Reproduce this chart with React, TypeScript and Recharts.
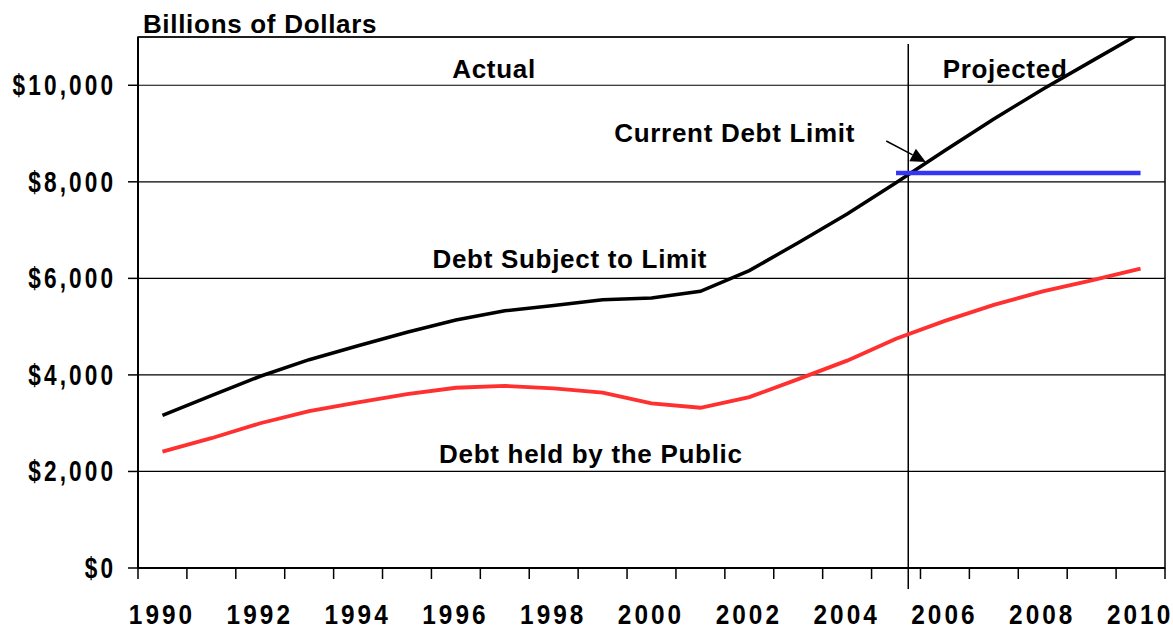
import React from 'react';
import {
  LineChart,
  Line,
  XAxis,
  YAxis,
  CartesianGrid,
  ReferenceLine,
  ReferenceArea,
  ReferenceDot,
} from 'recharts';

// fiscal years shown on the category axis
const years = [1990, 1991, 1992, 1993, 1994, 1995, 1996, 1997, 1998, 1999, 2000, 2001, 2002, 2003, 2004, 2005, 2006, 2007, 2008, 2009, 2010];

// billions of dollars
const debtSubjectToLimit = [3161, 3569, 3972, 4315, 4605, 4884, 5137, 5328, 5440, 5559, 5592, 5732, 6161, 6738, 7333, 7980, 8650, 9300, 9920, 10500, 11080];
const debtHeldByPublic = [2412, 2689, 2999, 3248, 3433, 3604, 3734, 3772, 3721, 3632, 3410, 3320, 3540, 3913, 4296, 4750, 5120, 5450, 5730, 5960, 6200];
const currentDebtLimit = [null, null, null, null, null, null, null, null, null, null, null, null, null, null, null, 8184, 8184, 8184, 8184, 8184, 8184];

const yTicks = [0, 2000, 4000, 6000, 8000, 10000];
const xLabelYears = [1990, 1992, 1994, 1996, 1998, 2000, 2002, 2004, 2006, 2008, 2010];
const yearBoundaries = [1989.5, 1990.5, 1991.5, 1992.5, 1993.5, 1994.5, 1995.5, 1996.5, 1997.5, 1998.5, 1999.5, 2000.5, 2001.5, 2002.5, 2003.5, 2004.5, 2005.5, 2006.5, 2007.5, 2008.5, 2009.5, 2010.5];
const projectionStart = 2005.25;

const annotations = [
  { text: 'Billions of Dollars', x: 1989.6, y: 11083, anchor: 'start' },
  { text: 'Actual', x: 1996.78, y: 10157, anchor: 'middle' },
  { text: 'Projected', x: 2007.23, y: 10144, anchor: 'middle' },
  { text: 'Current Debt Limit', x: 2001.7, y: 8831, anchor: 'middle' },
  { text: 'Debt Subject to Limit', x: 1998.33, y: 6208, anchor: 'middle' },
  { text: 'Debt held by the Public', x: 1998.76, y: 2181, anchor: 'middle' },
];
const arrowFrom = { x: 2004.8, y: 8846 };
const arrowTo = { x: 2005.61, y: 8411 };

const data = years.map((year, i) => ({
  year,
  subject: debtSubjectToLimit[i],
  publicDebt: debtHeldByPublic[i],
  limit: currentDebtLimit[i],
}));

const ARIAL = "'Liberation Sans', Arial, sans-serif";

// the original axis font is a tall condensed bold face, so squeeze Arial horizontally
const YTick = ({ x, y, payload }: any) => (
  <g transform={`translate(${x + 1},${y + 10}) scale(0.78,1)`}>
    <text x={4} y={0} textAnchor="end" fontFamily={ARIAL} fontWeight="bold" fontSize={29} letterSpacing={4} fill="#000">
      {'$' + Number(payload.value).toLocaleString('en-US')}
    </text>
  </g>
);

const XTick = ({ x, y, payload }: any) => (
  <g transform={`translate(${x - 2},${y + 56}) scale(0.87,1)`}>
    <text x={1.75} y={0} textAnchor="middle" fontFamily={ARIAL} fontWeight="bold" fontSize={28} letterSpacing={3.5} fill="#000">
      {payload.value}
    </text>
  </g>
);

const TickMark = (p: any) => {
  const bottom = Math.max(p.y1, p.y2);
  return <line x1={p.x1} x2={p.x1} y1={bottom} y2={bottom + 11} stroke="#000" strokeWidth={1.5} />;
};

const Divider = (p: any) => {
  const top = Math.min(p.y1, p.y2);
  const bottom = Math.max(p.y1, p.y2);
  return <line x1={p.x1} x2={p.x1} y1={top + 7} y2={bottom + 21} stroke="#000" strokeWidth={1.5} />;
};

const Arrow = (p: any) => {
  const dx = p.x2 - p.x1;
  const dy = p.y2 - p.y1;
  const len = Math.sqrt(dx * dx + dy * dy);
  const ux = dx / len;
  const uy = dy / len;
  const headLen = 15;
  const headW = 7;
  const bx = p.x2 - ux * headLen;
  const by = p.y2 - uy * headLen;
  return (
    <g>
      <line x1={p.x1} y1={p.y1} x2={bx} y2={by} stroke="#000" strokeWidth={1.5} />
      <polygon
        points={`${p.x2},${p.y2} ${bx - uy * headW},${by + ux * headW} ${bx + uy * headW},${by - ux * headW}`}
        fill="#000"
      />
    </g>
  );
};

export default function App() {
  return (
    <div style={{ width: 1173, height: 630, background: '#fff' }}>
      <style>{'body{margin:0}'}</style>
      <LineChart width={1173} height={630} data={data} margin={{ top: 37, right: 8, bottom: 0, left: 0 }}>
        <CartesianGrid vertical={false} stroke="#000" strokeWidth={1.2} />
        <ReferenceArea x1={1989.5} x2={2010.5} y1={0} y2={11000} fill="none" stroke="#000" strokeWidth={1.5} />
        <XAxis
          dataKey="year"
          type="number"
          domain={[1989.5, 2010.5]}
          ticks={xLabelYears}
          tickLine={false}
          tickSize={0}
          tickMargin={0}
          height={62}
          axisLine={{ stroke: '#000', strokeWidth: 2 }}
          tick={<XTick />}
          interval={0}
        />
        <YAxis
          type="number"
          domain={[0, 11000]}
          ticks={yTicks}
          allowDataOverflow
          width={138}
          tickSize={10}
          tickMargin={16}
          tickLine={{ stroke: '#000', strokeWidth: 1.5 }}
          axisLine={{ stroke: '#000', strokeWidth: 2 }}
          tick={<YTick />}
          interval={0}
        />
        {yearBoundaries.map((b) => (
          <ReferenceLine key={b} x={b} stroke="none" shape={<TickMark />} />
        ))}
        <ReferenceLine x={projectionStart} shape={<Divider />} />
        <Line dataKey="subject" type="linear" stroke="#000" strokeWidth={3.5} dot={false} isAnimationActive={false} />
        <Line dataKey="publicDebt" type="linear" stroke="#ff3030" strokeWidth={3.8} dot={false} isAnimationActive={false} />
        <Line dataKey="limit" type="linear" stroke="#3535f5" strokeWidth={4.5} dot={false} connectNulls={false} isAnimationActive={false} />
        <ReferenceLine segment={[arrowFrom, arrowTo]} shape={<Arrow />} />
        {annotations.map((a) => (
          <ReferenceDot
            key={a.text}
            x={a.x}
            y={a.y}
            r={0}
            ifOverflow="visible"
            shape={(p: any) => (
              <text x={p.cx} y={p.cy} textAnchor={a.anchor} fontFamily={ARIAL} fontWeight="bold" fontSize={26} letterSpacing={0.7} fill="#000">
                {a.text}
              </text>
            )}
          />
        ))}
      </LineChart>
    </div>
  );
}
